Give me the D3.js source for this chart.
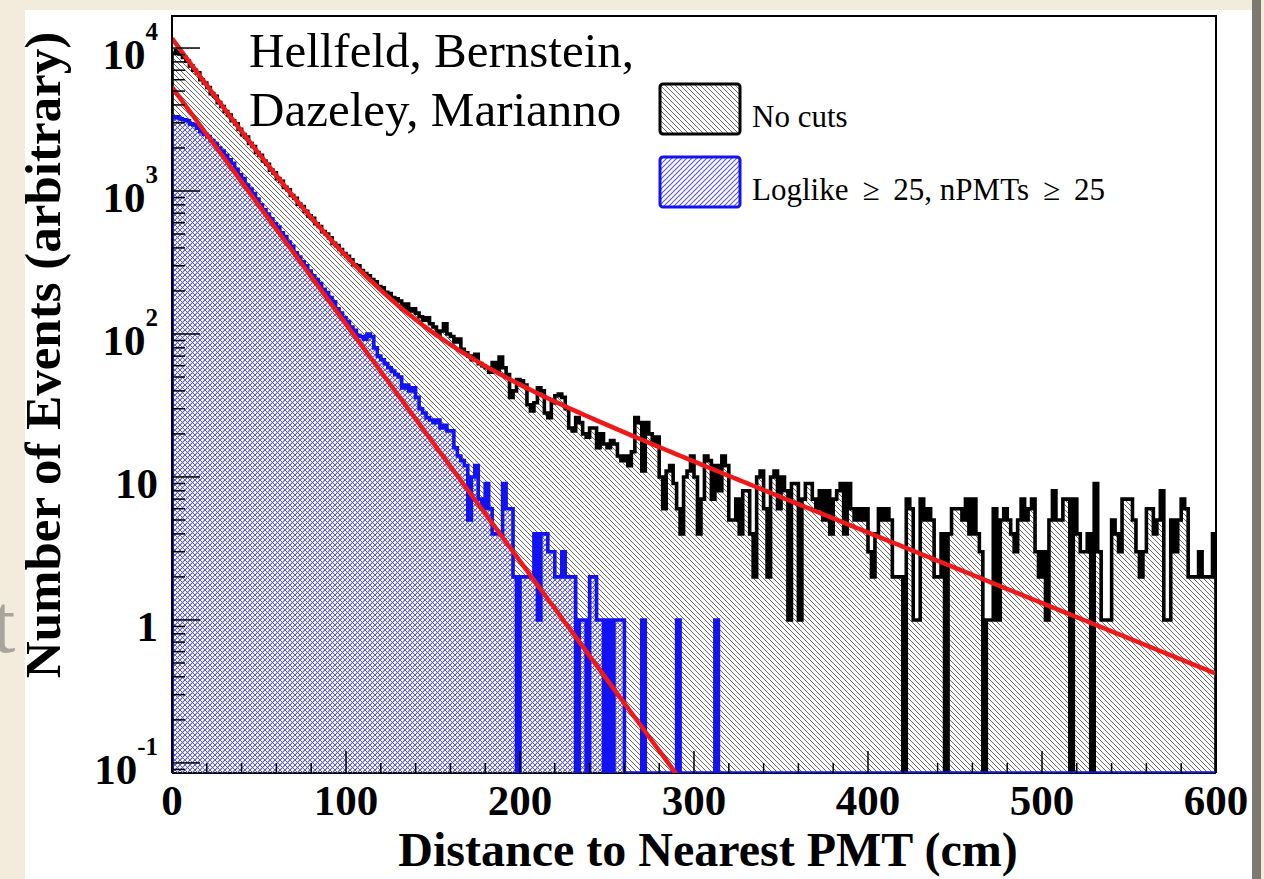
<!DOCTYPE html>
<html>
<head>
<meta charset="utf-8">
<script src="https://cdn.jsdelivr.net/npm/d3@7"></script>
<style>
  html, body { margin: 0; padding: 0; background: #f3ebdc; }
  svg { display: block; }
</style>
</head>
<body>
<svg id="chart" width="1264" height="879"></svg>
<script>
// Data (2 cm bins, 0..600 cm)

const binWidth = 2

const noCuts = [
  9200, 9600, 9100, 8600, 8100, 7500, 7000, 6700, 6000, 5700,
  5300, 4800, 4600, 4150, 3900, 3600, 3400, 3100, 2950, 2700,
  2480, 2380, 2150, 2050, 1860, 1780, 1620, 1540, 1400, 1340,
  1220, 1170, 1060, 1020, 930, 890, 810, 780, 720, 670,
  645, 590, 565, 520, 500, 470, 430, 415, 390, 365,
  350, 330, 305, 300, 278, 265, 255, 240, 232, 215,
  210, 196, 192, 180, 176, 170, 150, 162, 145, 150,
  140, 132, 125, 130, 118, 112, 98, 105, 118, 100,
  96, 88, 92, 78, 74, 70, 66, 72, 62, 60,
  58, 54, 63, 55, 69, 58, 52, 36, 40, 48,
  47, 44, 32, 29, 33, 42, 40, 28, 26, 33,
  37, 38, 36, 30, 22, 21, 26, 24, 20, 19,
  22, 22, 16, 20, 17, 16, 18, 17, 14, 13,
  14, 12, 15, 26, 24, 11, 24, 20, 17, 19,
  10, 6, 11, 12, 9, 6, 4, 10, 11, 14,
  10, 4, 7, 14, 13, 7, 12, 8, 14, 12,
  5, 5, 7, 4, 8, 8, 4, 2, 10, 11,
  6, 2, 10, 11, 6, 10, 8, 1, 9, 9,
  1, 7, 9, 9, 7, 6, 8, 5, 8, 4,
  7, 8, 9, 4, 9, 6, 5, 6, 5, 6,
  3, 2, 4, 6, 5, 6, 5, 2, 2, 2,
  0, 7, 6, 1, 1, 7, 5, 6, 5, 2,
  2, 4, 0, 4, 6, 6, 6, 5, 7, 4,
  7, 4, 3, 0, 1, 1, 6, 1, 5, 6,
  5, 4, 3, 5, 7, 5, 6, 7, 3, 2,
  3, 1, 5, 8, 5, 5, 7, 7, 0, 7,
  4, 3, 3, 4, 0, 9, 3, 1, 1, 1,
  5, 4, 3, 7, 7, 7, 5, 3, 2, 3,
  6, 6, 4, 5, 8, 1, 1, 5, 3, 5,
  7, 6, 2, 2, 2, 3, 2, 2, 2, 4
]

const withCuts = [
  3250, 3300, 3200, 3150, 3100, 2950, 2900, 2750, 2600, 2500,
  2400, 2250, 2150, 2000, 1900, 1780, 1650, 1560, 1420, 1300,
  1220, 1100, 1030, 960, 880, 800, 740, 690, 640, 590,
  560, 510, 480, 440, 410, 370, 345, 320, 300, 275,
  255, 240, 225, 205, 195, 180, 168, 150, 140, 130,
  122, 112, 106, 98, 96, 92, 100, 96, 80, 70,
  66, 62, 58, 55, 52, 50, 42, 44, 40, 42,
  36, 30, 28, 26, 25, 24, 25, 22, 23, 21,
  21, 16, 14, 13, 12, 5, 10, 12, 7, 6,
  9, 6, 4, 4, 4, 9, 6, 6, 2, 0,
  2, 2, 2, 2, 4, 1, 4, 4, 3, 3,
  2, 2, 3, 2, 2, 2, 0, 1, 1, 0,
  2, 2, 1, 1, 0, 1, 0, 1, 1, 1,
  0, 0, 0, 0, 0, 1, 0, 0, 0, 0,
  0, 0, 0, 0, 0, 1, 0, 0, 0, 0,
  0, 0, 0, 0, 0, 0, 1, 0, 0, 0,
  0, 0, 0, 0, 0, 0, 0, 0, 0, 0,
  0, 0, 0, 0, 0, 0, 0, 0, 0, 0,
  0, 0, 0, 0, 0, 0, 0, 0, 0, 0,
  0, 0, 0, 0, 0, 0, 0, 0, 0, 0,
  0, 0, 0, 0, 0, 0, 0, 0, 0, 0,
  0, 0, 0, 0, 0, 0, 0, 0, 0, 0,
  0, 0, 0, 0, 0, 0, 0, 0, 0, 0,
  0, 0, 0, 0, 0, 0, 0, 0, 0, 0,
  0, 0, 0, 0, 0, 0, 0, 0, 0, 0,
  0, 0, 0, 0, 0, 0, 0, 0, 0, 0,
  0, 0, 0, 0, 0, 0, 0, 0, 0, 0,
  0, 0, 0, 0, 0, 0, 0, 0, 0, 0,
  0, 0, 0, 0, 0, 0, 0, 0, 0, 0,
  0, 0, 0, 0, 0, 0, 0, 0, 0, 0
]

// fit parameters: double exponential (no cuts), single exponential (cuts)
const fitNoCuts = [11300, 25.6, 385, 88]
const fitCuts = [5330, 26.2]

const xTicks = [0, 100, 200, 300, 400, 500, 600]
const yDecades = [-1, 0, 1, 2, 3, 4]
const yDomain = [0.085, 16750]

const sp = '\u00a0\u2009'
const legendLabels = ['No cuts', `Loglike${sp}\u2265${sp}25, nPMTs${sp}\u2265${sp}25`]
const authors = ['Hellfeld, Bernstein,', 'Dazeley, Marianno']

// Layout

const frame = {left: 172, right: 1216, top: 16, bottom: 773}
const serif = '"Liberation Serif", "Times New Roman", Times, serif'
const blue = '#1212f2'

const svg = d3.select('#chart')

const x = d3.scaleLinear().domain([0, 600]).range([frame.left, frame.right])
const y = d3.scaleLog().domain(yDomain).range([frame.bottom, frame.top])
const yc = (v) => (v > yDomain[0] ? y(v) : frame.bottom)

// hatch patterns
const defs = svg.append('defs')
const hatch = (id, dir, color, w) => {
  const s = 5
  const p = defs.append('pattern')
      .attr('id', id)
      .attr('patternUnits', 'userSpaceOnUse')
      .attr('width', s)
      .attr('height', s)
  p.append('path')
      .attr('d', dir === 'back'
        ? `M0,0 L${s},${s} M-1,${s - 1} L1,${s + 1} M${s - 1},-1 L${s + 1},1`
        : `M0,${s} L${s},0 M-1,1 L1,-1 M${s - 1},${s + 1} L${s + 1},${s - 1}`)
      .attr('stroke', color)
      .attr('stroke-width', w)
      .attr('fill', 'none')
}
hatch('hatchBlack', 'back', '#6a6a6a', 1)
hatch('hatchBlue', 'fwd', '#5858e4', 1.2)

const clip = defs.append('clipPath').attr('id', 'frameClip')
clip.append('rect')
    .attr('x', frame.left).attr('y', frame.top)
    .attr('width', frame.right - frame.left).attr('height', frame.bottom - frame.top)

// slide background bits
svg.append('text')
    .attr('x', -8).attr('y', 652)
    .style('font-family', serif).style('font-size', '84px')
    .attr('fill', '#aaa59c')
    .text('t')
svg.append('rect')
    .attr('x', 25).attr('y', 10).attr('width', 1227).attr('height', 869)
    .attr('fill', '#fff')
svg.append('rect')
    .attr('x', 1252).attr('y', 0).attr('width', 9).attr('height', 879)
    .attr('fill', '#7d7870')

// frame (bottom line sits under the histograms)
svg.append('line')
    .attr('x1', frame.left).attr('x2', frame.right)
    .attr('y1', frame.bottom).attr('y2', frame.bottom)
    .attr('stroke', '#000').attr('stroke-width', 2)

// histograms
const histPath = (values) => {
  let d = `M${x(0)},${frame.bottom}`
  values.forEach((v, i) => {
    const y0 = yc(v)
    d += ` L${x(i * binWidth)},${y0} L${x((i + 1) * binWidth)},${y0}`
  })
  d += ` L${x(values.length * binWidth)},${frame.bottom}`
  return d
}

const plot = svg.append('g').attr('clip-path', 'url(#frameClip)')

plot.append('path')
    .attr('d', histPath(noCuts) + ' Z')
    .attr('fill', 'url(#hatchBlack)')
plot.append('path')
    .attr('d', histPath(noCuts))
    .attr('fill', 'none')
    .attr('stroke', '#000')
    .attr('stroke-width', 3.6)

plot.append('path')
    .attr('d', histPath(withCuts) + ' Z')
    .attr('fill', 'url(#hatchBlue)')
plot.append('path')
    .attr('d', histPath(withCuts))
    .attr('fill', 'none')
    .attr('stroke', blue)
    .attr('stroke-width', 3.6)

// fit curves
const xs = d3.range(0, 600.5, 2)
const line = d3.line().x((d) => x(d[0])).y((d) => y(d[1]))
const f1 = (t) => fitNoCuts[0] * Math.exp(-t / fitNoCuts[1]) + fitNoCuts[2] * Math.exp(-t / fitNoCuts[3])
const f2 = (t) => fitCuts[0] * Math.exp(-t / fitCuts[1])

plot.append('path')
    .attr('d', line(xs.map((t) => [t, f1(t)])))
    .attr('fill', 'none').attr('stroke', '#f01818').attr('stroke-width', 4.5)
plot.append('path')
    .attr('d', line(xs.filter((t) => f2(t) > yDomain[0] * 0.9).map((t) => [t, f2(t)])))
    .attr('fill', 'none').attr('stroke', '#f01818').attr('stroke-width', 4.5)

// rest of the frame
svg.append('path')
    .attr('d', `M${frame.left},${frame.bottom} V${frame.top} H${frame.right} V${frame.bottom}`)
    .attr('fill', 'none').attr('stroke', '#000').attr('stroke-width', 2)

// ticks
const ticks = svg.append('g').attr('stroke', '#000').attr('stroke-width', 1.5)
xTicks.forEach((t, i) => {
  ticks.append('line')
      .attr('x1', x(t)).attr('x2', x(t))
      .attr('y1', frame.bottom).attr('y2', frame.bottom - 22)
  if (i < xTicks.length - 1) {
    d3.range(1, 5).forEach((k) => {
      const xm = x(t + k * 20)
      ticks.append('line')
          .attr('x1', xm).attr('x2', xm)
          .attr('y1', frame.bottom).attr('y2', frame.bottom - 10)
    })
  }
})
yDecades.forEach((e) => {
  const base = Math.pow(10, e)
  ticks.append('line')
      .attr('x1', frame.left).attr('x2', frame.left + 28)
      .attr('y1', y(base)).attr('y2', y(base))
  d3.range(2, 10).forEach((k) => {
    const v = k * base
    if (v < yDomain[1]) {
      ticks.append('line')
          .attr('x1', frame.left).attr('x2', frame.left + 13)
          .attr('y1', y(v)).attr('y2', y(v))
    }
  })
})
ticks.append('line')
    .attr('x1', frame.left).attr('x2', frame.left + 13)
    .attr('y1', y(0.09)).attr('y2', y(0.09))

// tick labels
svg.append('g')
  .selectAll('text')
  .data(xTicks)
  .enter().append('text')
    .attr('x', (d) => x(d))
    .attr('y', 815)
    .attr('text-anchor', 'middle')
    .style('font-family', serif).style('font-weight', 'bold').style('font-size', '43px')
    .text((d) => d)

const yLabels = svg.append('g')
    .style('font-family', serif).style('font-weight', 'bold').style('font-size', '43px')
yDecades.forEach((e) => {
  const t = yLabels.append('text')
      .attr('x', 158)
      .attr('y', y(Math.pow(10, e)) + 21)
      .attr('text-anchor', 'end')
  if (e === 0) t.text('1')
  else if (e === 1) t.text('10')
  else {
    t.append('tspan').text('10')
    t.append('tspan').attr('dy', -29).style('font-size', '25px').text(e)
  }
})

// axis titles
svg.append('text')
    .attr('x', 708).attr('y', 866)
    .attr('text-anchor', 'middle')
    .style('font-family', serif).style('font-weight', 'bold').style('font-size', '48px')
    .text('Distance to Nearest PMT (cm)')

svg.append('text')
    .attr('transform', 'translate(60,355) rotate(-90)')
    .attr('text-anchor', 'middle')
    .style('font-family', serif).style('font-weight', 'bold').style('font-size', '51px')
    .text('Number of Events (arbitrary)')

// authors
authors.forEach((a, i) => {
  svg.append('text')
      .attr('x', 249).attr('y', 67 + i * 59)
      .style('font-family', serif).style('font-size', '49px')
      .text(a)
})

// legend
const legend = [
  {label: legendLabels[0], stroke: '#000', fill: 'url(#hatchBlack)', y: 84},
  {label: legendLabels[1], stroke: blue, fill: 'url(#hatchBlue)', y: 157}
]
legend.forEach((d) => {
  svg.append('rect')
      .attr('x', 660).attr('y', d.y).attr('width', 80).attr('height', 50)
      .attr('rx', 3)
      .attr('fill', d.fill).attr('stroke', d.stroke).attr('stroke-width', 3)
  svg.append('text')
      .attr('x', 752).attr('y', d.y + 43)
      .style('font-family', serif).style('font-size', '31px')
      .text(d.label)
})
</script>
</body>
</html>
